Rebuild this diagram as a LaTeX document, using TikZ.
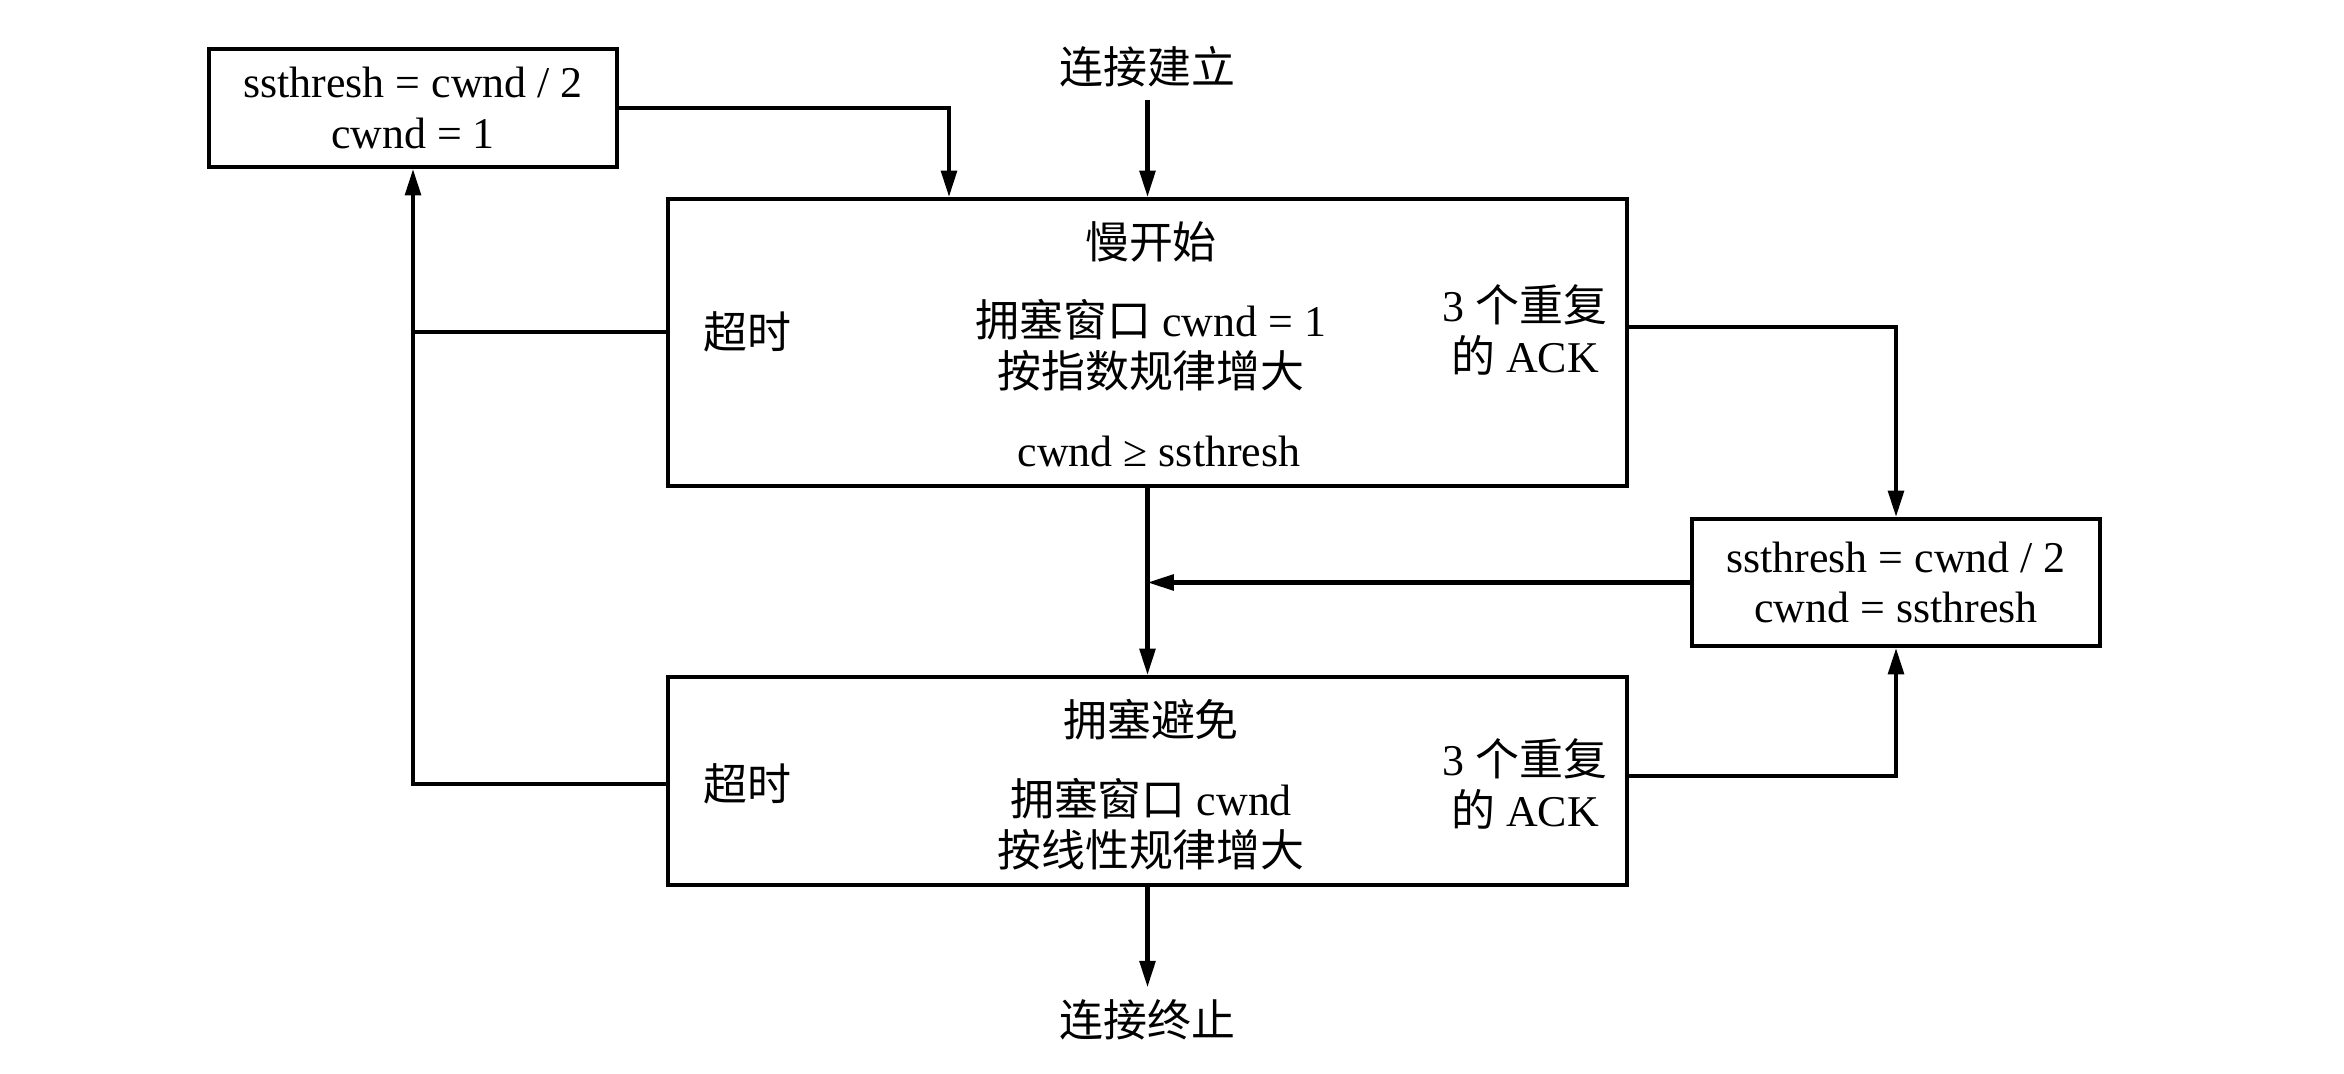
\documentclass[tikz,border=0pt]{standalone}
\usepackage{fontspec}
\setmainfont{Liberation Serif}
\newfontfamily\cjk{Noto Sans CJK SC}
\usetikzlibrary{arrows.meta,positioning}
\newcommand{\zh}[1]{{\cjk #1}}
\tikzset{
  tcpbase/.style={font=\fontsize{12.5}{14.5}\selectfont, line join=miter},
  tcpbox/.style={draw,line width=1.1pt},
  tcpline/.style={draw,line width=1.2pt,-{Triangle[length=7.5pt,width=4.4pt]}},
  tcpedge/.style={draw,line width=1.2pt},
  tcptext/.style={align=center}
}

\begin{document}
\begin{tikzpicture}[tcpbase]
\useasboundingbox (0,0) rectangle (23.44,10.74);
% boxes
\node[tcpbox,tcptext,minimum width=4.08cm,minimum height=1.18cm] (reset) at (4.13,9.66) {ssthresh = cwnd / 2\\cwnd = 1};
\node[tcpbox,minimum width=9.59cm,minimum height=2.87cm] (slow) at (11.475,7.315) {};
\node[tcpbox,minimum width=9.59cm,minimum height=2.08cm] (avoid) at (11.475,2.93) {};
\node[tcpbox,tcptext,minimum width=4.08cm,minimum height=1.27cm] (fast) at (18.96,4.915) {ssthresh = cwnd / 2\\cwnd = ssthresh};
\node (open) at (11.475,10.07) {\zh{连接建立}};
\node (close) at (11.475,0.54) {\zh{连接终止}};
% slow start texts
\node (slowname) at (11.51,8.32) {\zh{慢开始}};
\node[tcptext] (slowrule) at (11.51,7.29) {\zh{拥塞窗口} cwnd = 1\\\zh{按指数规律增大}};
\node[anchor=west] (slowto) at (6.91,7.42) {\zh{超时}};
\node[tcptext] (slowdup) at (15.25,7.44) {3 \zh{个重复}\\\zh{的} ACK};
\node (slowexit) at (11.59,6.23) {cwnd ≥ ssthresh};
% congestion avoidance texts
\node (avoidname) at (11.51,3.54) {\zh{拥塞避免}};
\node[tcptext] (avoidrule) at (11.51,2.50) {\zh{拥塞窗口} cwnd\\\zh{按线性规律增大}};
\node[anchor=west] (avoidto) at (6.91,2.9) {\zh{超时}};
\node[tcptext] (avoiddup) at (15.25,2.9) {3 \zh{个重复}\\\zh{的} ACK};
% connectors
\draw[tcpline] (open) -- (slow);
\draw[tcpline] (reset.east) -| ([xshift=-1.985cm]slow.north);
\draw[tcpedge] (slow.west |- slowto) -- (reset.south |- slowto);
\draw[tcpline] (avoid.west |- avoidto) -| (reset.south);
\draw[tcpline] ([yshift=0.03cm]slow.east |- slowdup) -| (fast.north);
\draw[tcpline] ([yshift=0.08cm]avoid.east |- avoiddup) -| (fast.south);
\draw[tcpline] (fast.west) -- (fast.west -| slow.south);
\draw[tcpline] (slow.south) -- (avoid.north);
\draw[tcpline] (avoid.south) -- (close);
\end{tikzpicture}
\end{document}
